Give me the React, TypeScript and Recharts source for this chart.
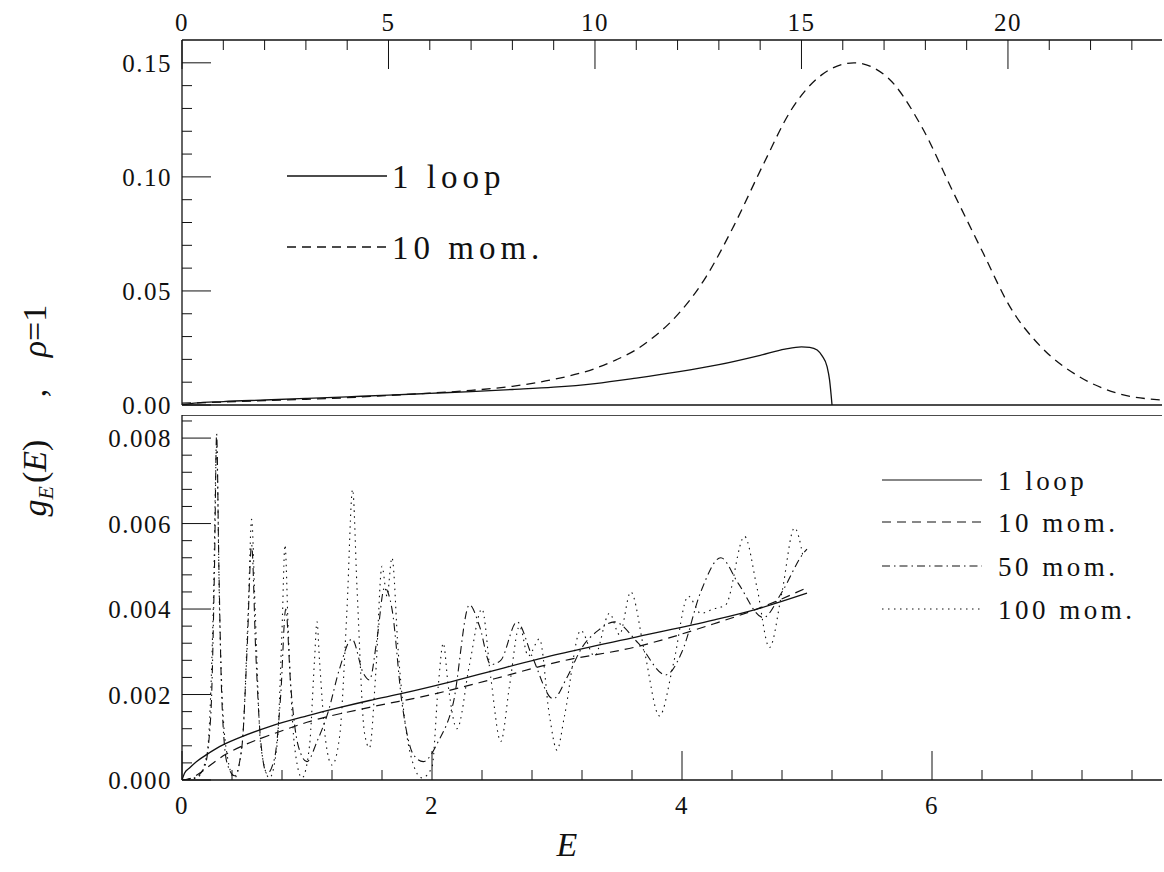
import React from "react"
import { LineChart, Line, XAxis, YAxis, ReferenceLine } from "recharts"

// ---- top panel (upper axis scale) ----
const topLoopU = [0, 0.3, 1, 2, 3, 4, 5, 6, 7, 8, 9, 10, 11, 12, 13, 14, 14.6, 15.0, 15.2, 15.38, 15.5, 15.62, 15.68, 15.74]
const topLoopG = [0, 0.0008, 0.0015, 0.0022, 0.0029, 0.0036, 0.0043, 0.0051, 0.0059, 0.0068, 0.0078, 0.0094, 0.0118, 0.0145, 0.0177, 0.0218, 0.0245, 0.0255, 0.0253, 0.0241, 0.0215, 0.0168, 0.011, 0]

const topMomU = [0, 1, 2, 3, 4, 5, 6, 7, 8, 9, 10, 10.5, 11, 11.4, 11.84, 12.69, 13.35, 14.09, 14.75, 15.48, 16.27, 17.07, 17.91, 18.65, 19.4, 20.05, 20.8, 21.73, 22.66, 23.73]
const topMomG = [0.0008, 0.0013, 0.0019, 0.0025, 0.0032, 0.0042, 0.0052, 0.0064, 0.0082, 0.0112, 0.016, 0.0197, 0.0243, 0.0295, 0.0365, 0.0562, 0.0781, 0.106, 0.1293, 0.1446, 0.15, 0.1438, 0.122, 0.0942, 0.0666, 0.043, 0.0255, 0.0124, 0.0051, 0.0022]

// ---- bottom panel (E) ----
const loopE = [0, 0.02, 0.06, 0.12, 0.2, 0.3, 0.45, 0.7, 1.0, 1.24, 1.5, 1.77, 2.1, 2.57, 3.02, 3.64, 4.25, 4.6, 5.0]
const loopG = [0, 0.00016, 0.00028, 0.00044, 0.0006, 0.00078, 0.00098, 0.00125, 0.0015, 0.00168, 0.00186, 0.00203, 0.00226, 0.00262, 0.00295, 0.00335, 0.00374, 0.004, 0.00437]

const mom10E = [0, 0.08, 0.16, 0.25, 0.35, 0.5, 0.75, 1.0, 1.5, 2.0, 2.5, 3.02, 3.64, 4.25, 4.6, 5.0]
const mom10G = [0, 0.00005, 0.0002, 0.0004, 0.0006, 0.00082, 0.0011, 0.00135, 0.0017, 0.002, 0.00237, 0.00277, 0.00312, 0.00365, 0.004, 0.0045]

const mom50E = [0, 0.1, 0.18, 0.23, 0.26, 0.277, 0.295, 0.32, 0.36, 0.42, 0.48, 0.52, 0.557, 0.59, 0.63, 0.68, 0.74, 0.79, 0.83, 0.87, 0.93, 1.0, 1.08, 1.17, 1.26, 1.36, 1.45, 1.5, 1.56, 1.62, 1.68, 1.76, 1.85, 1.93, 2.05, 2.17, 2.3, 2.38, 2.47, 2.55, 2.68, 2.8, 2.97, 3.08, 3.2, 3.33, 3.46, 3.65, 3.87, 4.0, 4.15, 4.31, 4.45, 4.65, 4.8, 4.97, 5.0]
const mom50G = [0, 0.00005, 0.0003, 0.0015, 0.005, 0.0081, 0.005, 0.0018, 0.0004, 0.0001, 0.0008, 0.003, 0.0055, 0.003, 0.0009, 0.00015, 0.0005, 0.002, 0.004, 0.0022, 0.0008, 0.00043, 0.0009, 0.0016, 0.0026, 0.0033, 0.0025, 0.00234, 0.0033, 0.0045, 0.004, 0.0018, 0.0006, 0.00043, 0.0009, 0.0018, 0.0041, 0.0036, 0.0027, 0.0028, 0.0037, 0.0029, 0.0019, 0.0024, 0.0031, 0.0035, 0.0037, 0.0032, 0.00246, 0.003, 0.0044, 0.0052, 0.0046, 0.0038, 0.0044, 0.0053, 0.0054]

const mom100E = [0, 0.12, 0.2, 0.25, 0.277, 0.3, 0.35, 0.42, 0.48, 0.53, 0.557, 0.585, 0.63, 0.7, 0.76, 0.8, 0.824, 0.85, 0.9, 0.96, 1.02, 1.06, 1.08, 1.1, 1.15, 1.2, 1.26, 1.32, 1.365, 1.4, 1.46, 1.5, 1.55, 1.6, 1.64, 1.68, 1.73, 1.82, 1.92, 2.0, 2.05, 2.09, 2.13, 2.2, 2.3, 2.4, 2.47, 2.55, 2.62, 2.7, 2.77, 2.86, 2.94, 3.0, 3.06, 3.19, 3.3, 3.42, 3.5, 3.59, 3.7, 3.82, 3.93, 4.05, 4.15, 4.25, 4.35, 4.5, 4.6, 4.7, 4.8, 4.9, 4.97]
const mom100G = [0, 0.00005, 0.0006, 0.004, 0.0078, 0.004, 0.0008, 0.00005, 0.0008, 0.004, 0.0061, 0.004, 0.0008, 0.00005, 0.0008, 0.0035, 0.0055, 0.0035, 0.0008, 0.00005, 0.0008, 0.0028, 0.0037, 0.0028, 0.0009, 0.00035, 0.001, 0.004, 0.0068, 0.0045, 0.0011, 0.00075, 0.0025, 0.005, 0.0043, 0.0052, 0.003, 0.0007, 0.00005, 0.0003, 0.0022, 0.0032, 0.0022, 0.0012, 0.0027, 0.004, 0.0024, 0.0009, 0.0022, 0.0036, 0.0029, 0.0033, 0.0015, 0.0007, 0.0015, 0.0035, 0.0029, 0.0039, 0.0034, 0.0044, 0.003, 0.0015, 0.0027, 0.0043, 0.0039, 0.004, 0.0041, 0.0057, 0.0045, 0.0031, 0.0044, 0.0059, 0.0052]

// ---- ticks ----
const topXTicks = [0, 1, 2, 3, 4, 5, 6, 7, 8, 9, 10, 11, 12, 13, 14, 15, 16, 17, 18, 19, 20, 21, 22, 23]
const topXMajor = [0, 5, 10, 15, 20]
const topYTicks = [0, 0.01, 0.02, 0.03, 0.04, 0.05, 0.06, 0.07, 0.08, 0.09, 0.1, 0.11, 0.12, 0.13, 0.14, 0.15]
const topYMajor = [0, 0.05, 0.1, 0.15]
const botXTicks = [0, 0.4, 0.8, 1.2, 1.6, 2, 2.4, 2.8, 3.2, 3.6, 4, 4.4, 4.8, 5.2, 5.6, 6, 6.4, 6.8, 7.2, 7.6]
const botXMajor = [0, 2, 4, 6]
const botYTicks = [0, 0.0004, 0.0008, 0.0012, 0.0016, 0.002, 0.0024, 0.0028, 0.0032, 0.0036, 0.004, 0.0044, 0.0048, 0.0052, 0.0056, 0.006, 0.0064, 0.0068, 0.0072, 0.0076, 0.008, 0.0084]
const botYMajor = [0, 0.002, 0.004, 0.006, 0.008]

const INK = "#111"
const FONT = "'Liberation Serif', serif"

const pts = (xs: number[], ys: number[]) => xs.map((x, i) => ({ x, y: ys[i] }))

const isMajor = (majors: number[], v: number) => majors.some((m) => Math.abs(m - v) < 1e-9)

function makeTick(side: "top" | "left" | "bottom", majors: number[], fmt: (v: number) => string) {
  return (props: any) => {
    const { x, y, payload } = props
    const v = payload.value
    const major = isMajor(majors, v)
    const len = major ? 29 : 10
    if (side === "top") {
      return (
        <g>
          <line x1={x} y1={y} x2={x} y2={y + len} stroke={INK} strokeWidth={1} />
          {major && (
            <text x={x} y={y - 9} textAnchor="middle" fontFamily={FONT} fontSize={25} letterSpacing={1.5} fill={INK}>
              {fmt(v)}
            </text>
          )}
        </g>
      )
    }
    if (side === "bottom") {
      return (
        <g>
          <line x1={x} y1={y} x2={x} y2={y - len} stroke={INK} strokeWidth={1} />
          {major && (
            <text x={x} y={y + 34} textAnchor="middle" fontFamily={FONT} fontSize={25} letterSpacing={1.5} fill={INK}>
              {fmt(v)}
            </text>
          )}
        </g>
      )
    }
    return (
      <g>
        <line x1={x} y1={y} x2={x + len} y2={y} stroke={INK} strokeWidth={1} />
        {major && (
          <text x={x - 10} y={y + 9} textAnchor="end" fontFamily={FONT} fontSize={25} letterSpacing={1.5} fill={INK}>
            {fmt(v)}
          </text>
        )}
      </g>
    )
  }
}

const dashed = "9 6"
const dashDot = "8 4 1.5 4"
const dotted = "1.5 4.5"

function TopPanel() {
  return (
    <LineChart width={1164} height={420} margin={{ top: 0, right: 2, bottom: 15, left: 0 }}>
      <XAxis
        xAxisId="t"
        type="number"
        dataKey="x"
        orientation="top"
        height={40}
        domain={[0, 23.73]}
        allowDataOverflow
        ticks={topXTicks}
        interval={0}
        tickSize={0}
        tickMargin={0}
        tickLine={false}
        axisLine={{ stroke: INK, strokeWidth: 1.3 }}
        tick={makeTick("top", topXMajor, (v) => String(v))}
      />
      <YAxis
        yAxisId="t"
        type="number"
        width={182}
        domain={[0, 0.16]}
        allowDataOverflow
        ticks={topYTicks}
        interval={0}
        tickSize={0}
        tickMargin={0}
        tickLine={false}
        axisLine={{ stroke: INK, strokeWidth: 1.3 }}
        tick={makeTick("left", topYMajor, (v) => v.toFixed(2))}
      />
      <ReferenceLine xAxisId="t" yAxisId="t" y={0} stroke={INK} strokeWidth={1.5} />
      <Line xAxisId="t" yAxisId="t" data={pts(topLoopU, topLoopG)} dataKey="y" type="monotone" stroke={INK} strokeWidth={1.3} dot={false} isAnimationActive={false} />
      <Line xAxisId="t" yAxisId="t" data={pts(topMomU, topMomG)} dataKey="y" type="monotone" stroke={INK} strokeWidth={1.3} strokeDasharray={dashed} dot={false} isAnimationActive={false} />
    </LineChart>
  )
}

function BottomPanel() {
  return (
    <LineChart width={1164} height={457} margin={{ top: 0, right: 2, bottom: 0, left: 0 }}>
      <XAxis
        xAxisId="b"
        type="number"
        dataKey="x"
        orientation="bottom"
        height={92}
        domain={[0, 7.84]}
        allowDataOverflow
        ticks={botXTicks}
        interval={0}
        tickSize={0}
        tickMargin={0}
        tickLine={false}
        axisLine={{ stroke: INK, strokeWidth: 1.3 }}
        tick={makeTick("bottom", botXMajor, (v) => String(v))}
      />
      <YAxis
        yAxisId="b"
        type="number"
        width={182}
        domain={[0, 0.00854]}
        allowDataOverflow
        ticks={botYTicks}
        interval={0}
        tickSize={0}
        tickMargin={0}
        tickLine={false}
        axisLine={{ stroke: INK, strokeWidth: 1.3 }}
        tick={makeTick("left", botYMajor, (v) => v.toFixed(3))}
      />
      <ReferenceLine xAxisId="b" yAxisId="b" y={0.00854} stroke={INK} strokeWidth={1.5} />
      <Line xAxisId="b" yAxisId="b" data={pts(loopE, loopG)} dataKey="y" type="monotone" stroke={INK} strokeWidth={1.3} dot={false} isAnimationActive={false} />
      <Line xAxisId="b" yAxisId="b" data={pts(mom10E, mom10G)} dataKey="y" type="monotone" stroke={INK} strokeWidth={1.2} strokeDasharray={dashed} dot={false} isAnimationActive={false} />
      <Line xAxisId="b" yAxisId="b" data={pts(mom50E, mom50G)} dataKey="y" type="monotone" stroke={INK} strokeWidth={1.1} strokeDasharray={dashDot} dot={false} isAnimationActive={false} />
      <Line xAxisId="b" yAxisId="b" data={pts(mom100E, mom100G)} dataKey="y" type="monotone" stroke={INK} strokeWidth={1.1} strokeDasharray={dotted} dot={false} isAnimationActive={false} />
    </LineChart>
  )
}

const topLegend = [
  { label: "1 loop", dash: undefined as string | undefined, y: 176 },
  { label: "10 mom.", dash: dashed, y: 247 },
]
const bottomLegend = [
  { label: "1 loop", dash: undefined as string | undefined, y: 480 },
  { label: "10 mom.", dash: dashed, y: 522 },
  { label: "50 mom.", dash: dashDot, y: 566 },
  { label: "100 mom.", dash: dotted, y: 609 },
]

function Overlay() {
  return (
    <svg width={1164} height={872} style={{ position: "absolute", left: 0, top: 0, pointerEvents: "none" }}>
      {topLegend.map((l) => (
        <g key={l.label}>
          <line x1={287} x2={387} y1={l.y} y2={l.y} stroke={INK} strokeWidth={1.3} strokeDasharray={l.dash} />
          <text x={392} y={l.y + 12} fontFamily={FONT} fontSize={33} letterSpacing={5} fill={INK}>{l.label}</text>
        </g>
      ))}
      {bottomLegend.map((l) => (
        <g key={l.label}>
          <line x1={882} x2={982} y1={l.y} y2={l.y} stroke={INK} strokeWidth={1.2} strokeDasharray={l.dash} />
          <text x={998} y={l.y + 10} fontFamily={FONT} fontSize={27} letterSpacing={3.5} fill={INK}>{l.label}</text>
        </g>
      ))}
      {/* rotated y title, pieces placed separately for the wide spacing */}
      <text transform="translate(46,478) rotate(-90)" textAnchor="middle" fontFamily={FONT} fontSize={34} fill={INK}>
        <tspan fontStyle="italic">g</tspan>
        <tspan fontStyle="italic" fontSize={22} dy={7}>E</tspan>
        <tspan dy={-7} dx={3}>(</tspan>
        <tspan fontStyle="italic">E</tspan>
        <tspan>)</tspan>
      </text>
      <text transform="translate(46,393) rotate(-90)" textAnchor="middle" fontFamily={FONT} fontSize={34} fill={INK}>,</text>
      <text transform="translate(46,331) rotate(-90)" textAnchor="middle" fontFamily={FONT} fontSize={34} fill={INK}>
        <tspan fontStyle="italic">ρ</tspan>
        <tspan>=1</tspan>
      </text>
      <text x={567} y={856} textAnchor="middle" fontFamily={FONT} fontStyle="italic" fontSize={34} fill={INK}>E</text>
    </svg>
  )
}

export default function App() {
  return (
    <div style={{ position: "absolute", left: 0, top: 0, width: 1164, height: 872, background: "#fff" }}>
      <div style={{ position: "absolute", left: 0, top: 0 }}>
        <TopPanel />
      </div>
      <div style={{ position: "absolute", left: 0, top: 415 }}>
        <BottomPanel />
      </div>
      <Overlay />
    </div>
  )
}
